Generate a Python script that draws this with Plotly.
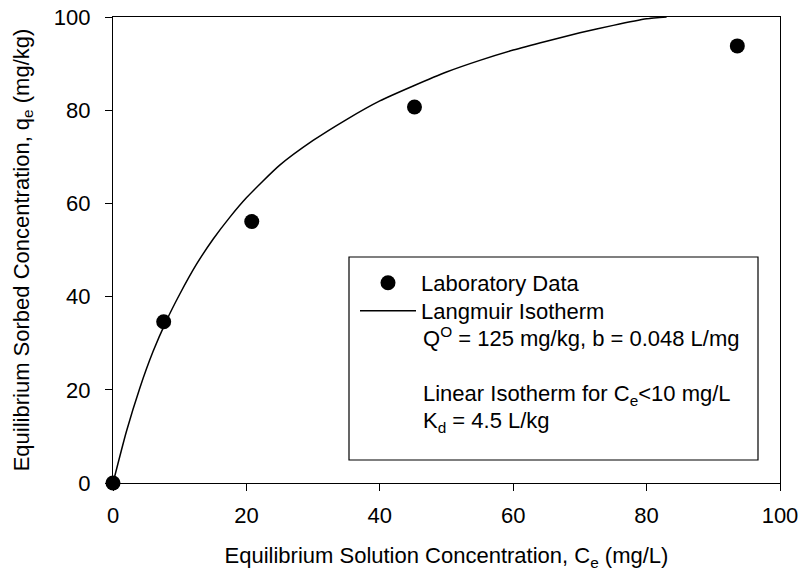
import plotly.graph_objects as go

# Laboratory data
lab_ce = [0, 7.6, 20.8, 45.2, 93.6]
lab_qe = [0, 34.6, 56.1, 80.7, 93.8]

# Langmuir isotherm curve
curve_ce = [0, 2, 4, 6, 8, 10, 12.5, 15, 17.5, 20, 25, 30, 35, 40, 45, 50,
            55, 60, 65, 70, 75, 80, 83]
curve_qe = [0, 11.0, 20.3, 28.2, 34.8, 40.5, 46.9, 52.3, 57.0, 61.2, 68.2,
            73.5, 78.0, 82.0, 85.2, 88.2, 90.7, 92.9, 94.8, 96.6, 98.2, 99.6,
            100.0]

tick_vals = [0, 20, 40, 60, 80, 100]
tick_text = ["0", "20", "40", "60", "80", "100"]

FONT = "Liberation Sans, Arial, sans-serif"
FS = 22

# Plot-area geometry in page pixels
PL, PR, PT, PB = 113, 780, 17, 483
W, H = 801, 571


def px(pix):
    return (pix - PL) / (PR - PL)


def py(pix):
    return (PB - pix) / (PB - PT)


fig = go.Figure()
fig.add_trace(go.Scatter(x=lab_ce, y=lab_qe, mode="markers",
                         marker=dict(color="black", size=15),
                         name="Laboratory Data", cliponaxis=False,
                         legend="legend"))
fig.add_trace(go.Scatter(x=curve_ce, y=curve_qe, mode="lines",
                         line=dict(color="black", width=1.5,
                                   shape="spline", smoothing=0.6),
                         name="Langmuir Isotherm", legend="legend2"))

axis_common = dict(
    showline=True, linecolor="black", linewidth=1.2, mirror=True,
    ticks="outside", ticklen=7, tickwidth=1.2, tickcolor="black",
    showgrid=False, zeroline=False, range=[0, 100],
    tickvals=tick_vals, ticktext=tick_text,
    ticklabeloverflow="allow",
    tickfont=dict(family=FONT, size=FS, color="black"),
)

fig.update_xaxes(**axis_common,
                 title=dict(text="Equilibrium Solution Concentration, C<sub>e</sub> (mg/L)",
                            font=dict(family=FONT, size=FS, color="black"),
                            standoff=24),
                 ticklabelstandoff=5)
fig.update_yaxes(**axis_common,
                 title=dict(text="Equilibrium Sorbed Concentration, q<sub>e</sub> (mg/kg)",
                            font=dict(family=FONT, size=FS, color="black"),
                            standoff=18),
                 ticklabelstandoff=10)

# Legend box
fig.add_shape(type="rect", xref="paper", yref="paper",
              x0=px(349), x1=px(758), y0=py(460), y1=py(257),
              line=dict(color="black", width=1.2),
              fillcolor="white", layer="below")

extra = [
    ("Q<sup>O</sup> = 125 mg/kg, b = 0.048 L/mg", 337),
    ("Linear Isotherm for C<sub>e</sub><10 mg/L", 395),
    ("K<sub>d</sub> = 4.5 L/kg", 422),
]
for txt, ypix in extra:
    fig.add_annotation(xref="paper", yref="paper", x=px(421), y=py(ypix),
                       xanchor="left", yanchor="middle", text=txt,
                       showarrow=False,
                       font=dict(family=FONT, size=FS, color="black"))

leg_common = dict(xanchor="left", yanchor="middle",
                  bgcolor="rgba(0,0,0,0)", borderwidth=0, itemwidth=56,
                  font=dict(family=FONT, size=FS, color="black"))

fig.update_layout(
    width=W, height=H,
    margin=dict(l=PL, r=W - PR, t=PT, b=H - PB, autoexpand=False),
    paper_bgcolor="white", plot_bgcolor="white",
    font=dict(family=FONT, size=FS, color="black"),
    showlegend=True, hovermode=False,
    legend=dict(x=px(355), y=py(283), **leg_common),
    legend2=dict(x=px(355), y=py(311), **leg_common),
)

fig.write_html("out.html",
               config={"displayModeBar": False},
               post_script="document.body.style.margin='0';"
                           "document.body.style.overflow='hidden';")
